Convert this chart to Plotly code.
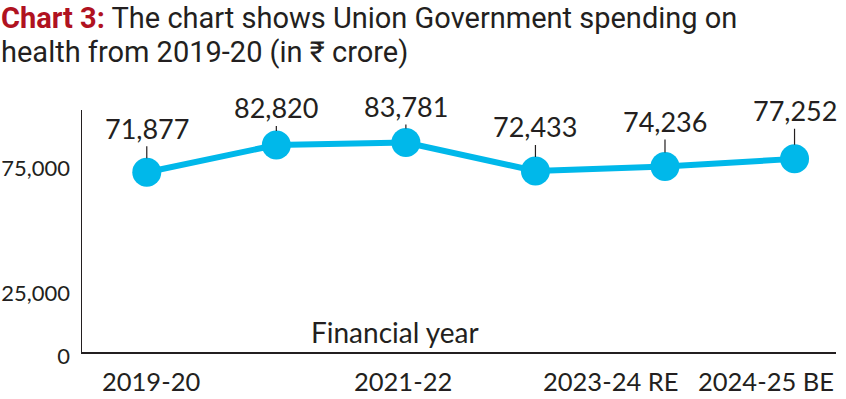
import plotly.graph_objects as go

# ---- data ----
years = ["2019-20", "2020-21", "2021-22", "2022-23", "2023-24 RE", "2024-25 BE"]
spending = [71877, 82820, 83781, 72433, 74236, 77252]
shown_year_labels = ["2019-20", "2021-22", "2023-24 RE", "2024-25 BE"]
y_tick_vals = [0, 25000, 75000]
y_tick_text = ["0", "25,000", "75,000"]
title_lead = "Chart 3:"
title_lines = ["The chart shows Union Government spending on", "health from 2019-20 (in ₹ crore)"]

# ---- styling ----
FONT = "Lato"
TITLE_FONT = "Roboto"
TEXT = "#231f20"
RED = "#b0121f"
BLUE = "#00b8ea"
W, H = 846, 399
ML, MR, MT, MB = 82, 10, 110, 47
label_dy = [-44, -37, -36, -44, -45, -48]
xlabel_shift = {"2019-20": 4, "2021-22": -3, "2023-24 RE": -54, "2024-25 BE": -29}
title_line_tops = [0, 34]  # pixel tops of the title line boxes

fig = go.Figure()
fig.add_trace(go.Scatter(
    x=years, y=spending, mode="lines+markers",
    line=dict(color=BLUE, width=6),
    marker=dict(color=BLUE, size=29),
    hoverinfo="skip", showlegend=False, cliponaxis=False,
))

annotations = []
for i, (yr, v) in enumerate(zip(years, spending)):
    annotations.append(dict(
        x=yr, y=v, xref="x", yref="y", text=f"{v:,}",
        showarrow=True, arrowhead=0, arrowwidth=1.2, arrowcolor=TEXT,
        ax=0, ay=label_dy[i], standoff=14,
        font=dict(family=FONT, size=27, color=TEXT),
    ))
for yr in shown_year_labels:
    annotations.append(dict(
        x=yr, y=0, xref="x", yref="paper", yanchor="top", yshift=-12,
        xshift=xlabel_shift[yr], text=yr, showarrow=False,
        font=dict(family=FONT, size=25.5, color=TEXT),
    ))
annotations.append(dict(
    x=0.415, y=0.082, xref="paper", yref="paper", xanchor="center", yanchor="middle",
    text="Financial year", showarrow=False, font=dict(family=FONT, size=28, color=TEXT),
))
pw = W - ML - MR
ph = H - MT - MB
title_texts = [f"<b><span style='color:{RED}'>{title_lead}</span></b> {title_lines[0]}", title_lines[1]]
for txt, top in zip(title_texts, title_line_tops):
    annotations.append(dict(
        x=-ML / pw, y=(ph + MT - top) / ph, xref="paper", yref="paper",
        xanchor="left", yanchor="top", align="left", showarrow=False, borderpad=0,
        text=txt, font=dict(family=TITLE_FONT, size=29, color=TEXT),
    ))

fig.update_layout(
    template="none",
    width=W, height=H,
    margin=dict(l=ML, r=MR, t=MT, b=MB, pad=0, autoexpand=False),
    paper_bgcolor="white", plot_bgcolor="white",
    xaxis=dict(
        type="category", range=[-0.5, 5.32], showgrid=False, zeroline=False, automargin=False,
        showline=True, linecolor=TEXT, linewidth=1.5, showticklabels=False, ticks="",
    ),
    yaxis=dict(
        range=[0, 96800], tickvals=y_tick_vals, ticktext=y_tick_text, automargin=False,
        showgrid=False, zeroline=False, showline=True, linecolor=TEXT, linewidth=1.5,
        ticks="", ticklabelstandoff=6, ticklabelshift=4,
        tickfont=dict(family=FONT, size=22, color=TEXT),
    ),
    annotations=annotations,
)

fig.write_html(
    "out.html",
    config={"displayModeBar": False, "staticPlot": True},
    post_script="document.body.style.margin='0';document.body.style.padding='0';",
)
